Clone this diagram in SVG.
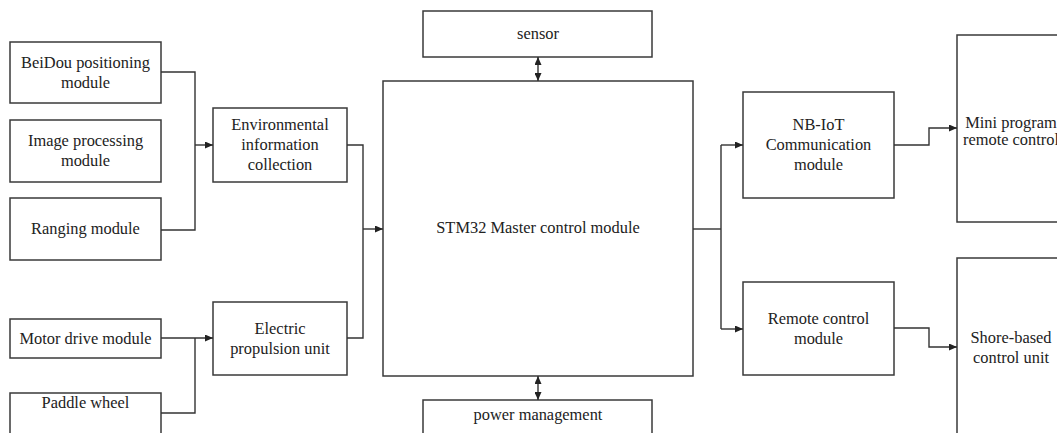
<svg xmlns="http://www.w3.org/2000/svg" width="1057" height="433" viewBox="0 0 1057 433">
<defs>
<style>
.box{fill:#fff;stroke:#3a3a3a;stroke-width:1.5}
.t{font-family:"Liberation Serif","Times New Roman",serif;font-size:16.4px;fill:#222;text-anchor:middle}
.c{fill:none;stroke:#333;stroke-width:1.4}
</style>
<marker id="ah" viewBox="0 0 8 7" refX="8" refY="3.5" markerWidth="8" markerHeight="7" markerUnits="userSpaceOnUse" orient="auto-start-reverse">
<path d="M0,0 L8,3.5 L0,7 z" fill="#222"/>
</marker>
</defs>
<rect width="1057" height="433" fill="#fff"/>

<g id="beidou"><rect class="box" x="10" y="42" width="151" height="61"/><text class="t" x="85.5" y="67.5">BeiDou positioning</text><text class="t" x="85.5" y="87.5">module</text></g>
<g id="image"><rect class="box" x="10" y="120" width="151" height="62"/><text class="t" x="85.5" y="146">Image processing</text><text class="t" x="85.5" y="166">module</text></g>
<g id="ranging"><rect class="box" x="10" y="198" width="151" height="62"/><text class="t" x="85.5" y="234">Ranging module</text></g>
<g id="motor"><rect class="box" x="10" y="319" width="151" height="39"/><text class="t" x="85.5" y="344">Motor drive module</text></g>
<g id="paddle"><rect class="box" x="10" y="393" width="151" height="45"/><text class="t" x="85.5" y="408">Paddle wheel</text></g>
<g id="env"><rect class="box" x="213" y="108" width="134" height="74"/><text class="t" x="280" y="130">Environmental</text><text class="t" x="280" y="150">information</text><text class="t" x="280" y="170">collection</text></g>
<g id="electric"><rect class="box" x="213" y="302" width="134" height="73"/><text class="t" x="280" y="333.5">Electric</text><text class="t" x="280" y="353.5">propulsion unit</text></g>
<g id="sensor"><rect class="box" x="423" y="11" width="229" height="46"/><text class="t" x="538" y="39">sensor</text></g>
<g id="stm32"><rect class="box" x="383" y="81" width="310" height="295"/><text class="t" x="538" y="233">STM32 Master control module</text></g>
<g id="power"><rect class="box" x="423" y="400" width="229" height="40"/><text class="t" x="538" y="420">power management</text></g>
<g id="nbiot"><rect class="box" x="743" y="92" width="151" height="106"/><text class="t" x="818.5" y="130">NB-IoT</text><text class="t" x="818.5" y="150">Communication</text><text class="t" x="818.5" y="170">module</text></g>
<g id="remote"><rect class="box" x="743" y="282" width="151" height="93"/><text class="t" x="818.5" y="323.5">Remote control</text><text class="t" x="818.5" y="343.5">module</text></g>
<g id="mini"><rect class="box" x="957" y="35" width="110" height="187"/><text class="t" x="1011" y="128">Mini program</text><text class="t" x="1011" y="145">remote control</text></g>
<g id="shore"><rect class="box" x="957" y="258" width="110" height="190"/><text class="t" x="1011" y="343">Shore-based</text><text class="t" x="1011" y="363">control unit</text></g>

<g id="connectors">
<polyline class="c" points="161,72 195,72 195,230 161,230"/>
<line class="c" x1="195" y1="145" x2="213" y2="145" marker-end="url(#ah)"/>
<line class="c" x1="161" y1="338" x2="213" y2="338" marker-end="url(#ah)"/>
<polyline class="c" points="161,413 195,413 195,338"/>
<polyline class="c" points="347,145 363,145 363,338 347,338"/>
<line class="c" x1="363" y1="229" x2="383" y2="229" marker-end="url(#ah)"/>
<line class="c" x1="538" y1="57" x2="538" y2="81" marker-start="url(#ah)" marker-end="url(#ah)"/>
<line class="c" x1="538" y1="376" x2="538" y2="400" marker-start="url(#ah)" marker-end="url(#ah)"/>
<line class="c" x1="693" y1="229" x2="721" y2="229"/>
<polyline class="c" points="721,145 721,329"/>
<line class="c" x1="721" y1="145" x2="743" y2="145" marker-end="url(#ah)"/>
<line class="c" x1="721" y1="329" x2="743" y2="329" marker-end="url(#ah)"/>
<polyline class="c" points="894,145 929,145 929,128 957,128" marker-end="url(#ah)"/>
<polyline class="c" points="894,328 929,328 929,347 957,347" marker-end="url(#ah)"/>
</g>
</svg>
